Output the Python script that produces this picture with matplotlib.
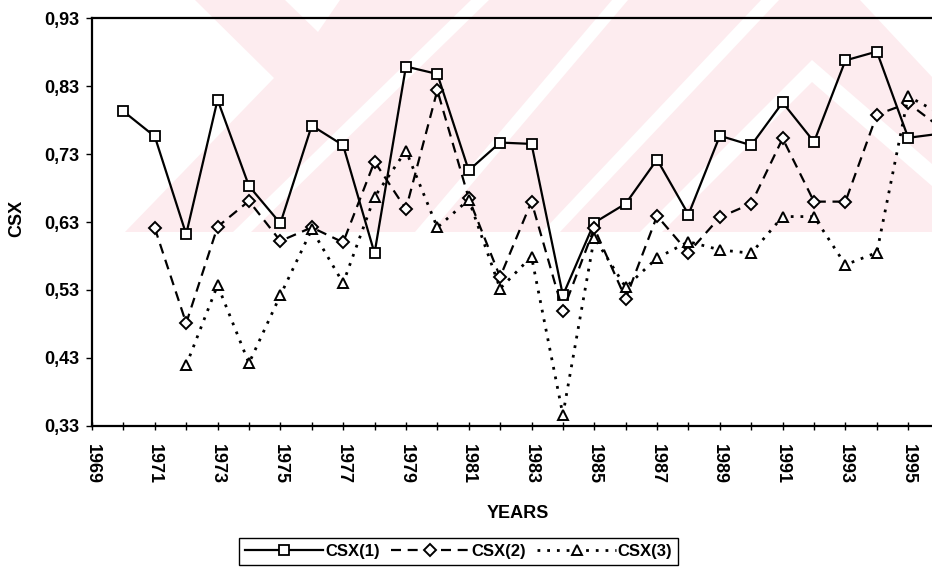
"""CSX indices 1969-1996, three variants on one axis."""

import matplotlib.pyplot as plt
from matplotlib.patches import Polygon
from matplotlib.ticker import FixedLocator, FuncFormatter

plt.rcParams["font.family"] = ["Liberation Sans", "DejaVu Sans"]

# series values read per year
years_1 = list(range(1970, 1997))
csx_1 = [0.793, 0.756, 0.612, 0.810, 0.683, 0.628, 0.772, 0.743, 0.584,
         0.859, 0.848, 0.706, 0.747, 0.745, 0.522, 0.629, 0.657, 0.722,
         0.641, 0.757, 0.743, 0.806, 0.748, 0.868, 0.881, 0.754, 0.760]

years_2 = list(range(1971, 1997))
csx_2 = [0.621, 0.481, 0.623, 0.661, 0.602, 0.622, 0.600, 0.719, 0.649,
         0.824, 0.665, 0.549, 0.660, 0.499, 0.621, 0.517, 0.639, 0.585,
         0.637, 0.657, 0.753, 0.660, 0.660, 0.788, 0.805, 0.770]

years_3 = list(range(1972, 1997))
csx_3 = [0.419, 0.537, 0.422, 0.522, 0.619, 0.540, 0.667, 0.735, 0.622,
         0.663, 0.532, 0.579, 0.346, 0.607, 0.534, 0.577, 0.601, 0.589,
         0.584, 0.638, 0.638, 0.567, 0.585, 0.815, 0.790]

series_labels = ["CSX(1)", "CSX(2)", "CSX(3)"]
y_ticks = [0.33, 0.43, 0.53, 0.63, 0.73, 0.83, 0.93]
x_labelled = list(range(1969, 1996, 2))
x_other = list(range(1970, 1997, 2))

W, H = 932, 571
PINK = "#fdecef"


def px(points):
    """Pixel coordinates (origin top-left) to figure fractions."""
    return [(x / W, 1 - y / H) for x, y in points]


fig = plt.figure(figsize=(W / 100, H / 100), dpi=100)

# faint background stamp
stamp = [
    ([(195, 0), (274, 78), (125, 232), (932, 232), (932, 0)], PINK),
    ([(285, 0), (340, 0), (318, 32)], "white"),
    ([(233, 232), (251, 232), (489, 0), (471, 0)], "white"),
    ([(415, 232), (431, 232), (628, 0), (612, 0)], "white"),
    ([(542, 232), (560, 232), (779, 0), (761, 0)], "white"),
    ([(640, 232), (812, 60), (932, 164), (932, 186), (812, 82), (662, 232)], "white"),
    ([(860, 0), (932, 0), (932, 77)], "white"),
]
for pts, colour in stamp:
    fig.add_artist(Polygon(px(pts), closed=True, transform=fig.transFigure,
                           facecolor=colour, edgecolor="none", zorder=-2))

ax = fig.add_axes([92 / W, 1 - 425.7 / H, 879 / W, 407.4 / H])
ax.set_facecolor("none")

l1, = ax.plot(years_1, csx_1, color="black", lw=1.6, marker="s", ms=7,
              mfc="white", mec="black", mew=1.3)
l2, = ax.plot(years_2, csx_2, color="black", lw=1.6, marker="D", ms=6.5,
              mfc="white", mec="black", mew=1.4)
l2.set_dashes((4.5, 3))
l3, = ax.plot(years_3, csx_3, color="black", lw=2.0, marker="^", ms=7.5,
              mfc="white", mec="black", mew=1.4)
l3.set_dashes((1, 2.5))

ax.set_xlim(1969, 1997)
ax.set_ylim(0.33, 0.93)
ax.set_yticks(y_ticks)
ax.yaxis.set_major_formatter(FuncFormatter(lambda v, _: f"{v:.2f}".replace(".", ",")))
ax.xaxis.set_major_locator(FixedLocator(x_labelled))
ax.xaxis.set_minor_locator(FixedLocator(x_other))
ax.set_xticklabels([str(y) for y in x_labelled], rotation=-90)

ax.tick_params(axis="x", which="both", direction="inout", length=6, width=1)
ax.tick_params(axis="x", which="major", pad=10, labelsize=13)
ax.tick_params(axis="y", direction="out", length=4, width=1, pad=5, labelsize=13)
for lab in ax.get_xticklabels() + ax.get_yticklabels():
    lab.set_fontweight("bold")

for side in ("left", "bottom", "top"):
    ax.spines[side].set_linewidth(1.6)
ax.spines["right"].set_visible(False)

fig.text(17 / W, 1 - 218 / H, "CSX", rotation=90, ha="center", va="center",
         fontsize=13, fontweight="bold")
fig.text(518 / W, 1 - 514 / H, "YEARS", ha="center", va="center",
         fontsize=13, fontweight="bold")

leg = fig.legend([l1, l2, l3], series_labels, loc="center",
                 bbox_to_anchor=(458.5 / W, 1 - 551.5 / H), ncol=3,
                 numpoints=1, handlelength=4.7, handletextpad=0.1,
                 columnspacing=0.7, borderpad=0.35, fancybox=False,
                 framealpha=1, edgecolor="black",
                 prop={"size": 12, "weight": "bold"})
leg.get_frame().set_linewidth(1.0)

fig.savefig("out.png", dpi=100, facecolor="white")
